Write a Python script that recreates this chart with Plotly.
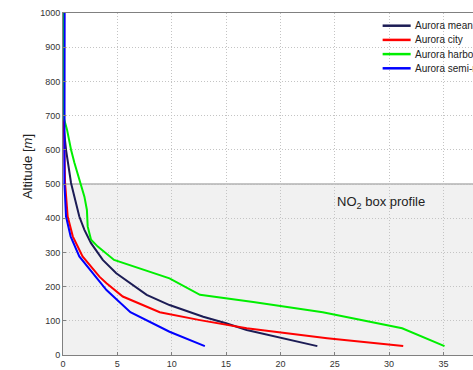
import plotly.graph_objects as go

names = ["Aurora mean", "Aurora city", "Aurora harbor", "Aurora semi-rural"]
colors = ["#1c1c55", "#ff0000", "#00ee00", "#0000ff"]

mean_x = [0.08, 0.08, 0.28, 0.74, 1.05, 1.5, 1.97, 2.58, 3.66, 4.9, 7.7, 9.8, 12.9, 15.0, 16.9, 19.6, 23.4]
mean_y = [1000, 660, 600, 503, 463, 405, 366, 327, 278, 239, 176, 146, 112, 93, 73, 54, 26]

city_x = [0.1, 0.1, 0.19, 0.43, 0.9, 1.8, 3.35, 4.0, 5.5, 8.9, 12.6, 16.9, 24.3, 31.3]
city_y = [1000, 650, 503, 405, 347, 288, 229, 210, 171, 125, 102, 78, 49, 26]

harbor_x = [0.03, 0.1, 0.37, 0.74, 1.05, 1.6, 1.97, 2.2, 2.27, 2.58, 3.2, 4.7, 9.8, 12.6, 17.5, 23.9, 31.2, 35.1]
harbor_y = [1000, 690, 659, 600, 562, 503, 463, 424, 376, 337, 317, 278, 224, 176, 155, 125, 78, 26]

semi_x = [0.15, 0.1, 0.13, 0.28, 0.7, 1.5, 3.0, 4.0, 6.2, 9.8, 13.05]
semi_y = [1000, 600, 503, 405, 347, 288, 229, 190, 125, 68, 26]

series = [(mean_x, mean_y), (city_x, city_y), (harbor_x, harbor_y), (semi_x, semi_y)]

x_ticks = [0, 5, 10, 15, 20, 25, 30, 35]
y_ticks = [0, 100, 200, 300, 400, 500, 600, 700, 800, 900, 1000]
box_top = 500

fig = go.Figure()
for (xs, ys), n, c in zip(series, names, colors):
    fig.add_trace(go.Scatter(x=xs, y=ys, mode="lines", name=n,
                             line=dict(color=c, width=2), showlegend=False))

shapes = [
    dict(type="rect", xref="paper", yref="y", x0=0, x1=1, y0=0, y1=box_top,
         fillcolor="#f1f1f1", line=dict(width=0), layer="below"),
    dict(type="line", xref="paper", yref="y", x0=0, x1=1, y0=box_top, y1=box_top,
         line=dict(color="#8a8a8a", width=1), layer="below"),
]
annotations = []
# legend built manually
x_start = (382.7 - 63.3) / (473 - 63.3)
x_end = (410.7 - 63.3) / (473 - 63.3)
x_text = (413 - 63.3) / (473 - 63.3)
for i, (n, c) in enumerate(zip(names, colors)):
    py = 25.7 + i * 14.2
    yp = 1 - (py - 13) / 342
    shapes.append(dict(type="line", xref="paper", yref="paper", x0=x_start, x1=x_end,
                       y0=yp, y1=yp, line=dict(color=c, width=2.5)))
    annotations.append(dict(xref="paper", yref="paper", x=x_text, y=yp, text=n,
                            showarrow=False, xanchor="left", yanchor="middle",
                            font=dict(size=10, color="#222", family="Liberation Sans")))

annotations.append(dict(xref="paper", yref="y", x=(381 - 63.3) / (473 - 63.3), y=445,
                        xanchor="center", yanchor="middle",
                        text="NO<sub>2</sub> box profile", showarrow=False,
                        font=dict(size=13, color="#222", family="Liberation Sans")))
annotations.append(dict(xref="paper", yref="paper", x=-0.085, y=0.55, xanchor="center",
                        yanchor="middle", textangle=-90,
                        text="Altitude [<i>m</i>]", showarrow=False,
                        font=dict(size=13, color="#222", family="Liberation Sans")))

fig.update_layout(
    width=473, height=370,
    margin=dict(l=63, r=0, t=13, b=15),
    paper_bgcolor="white", plot_bgcolor="white",
    shapes=shapes, annotations=annotations,
    font=dict(family="Liberation Sans", size=9, color="#333"),
)
fig.update_xaxes(range=[0, 37.72], tickvals=x_ticks, showgrid=True, gridcolor="#c4c4c4",
                 griddash="1px,2px", gridwidth=1, showline=True, linecolor="#808080",
                 linewidth=1, mirror=True, ticks="inside", ticklen=3, tickcolor="#808080",
                 zeroline=False, tickfont=dict(size=9, color="#333"))
fig.update_yaxes(range=[0, 1000], tickvals=y_ticks, showgrid=True, gridcolor="#c4c4c4",
                 griddash="1px,2px", gridwidth=1, showline=True, linecolor="#808080",
                 linewidth=1, ticks="inside", ticklen=3, tickcolor="#808080",
                 zeroline=False, tickfont=dict(size=9, color="#333"))

fig.write_html("out.html")
